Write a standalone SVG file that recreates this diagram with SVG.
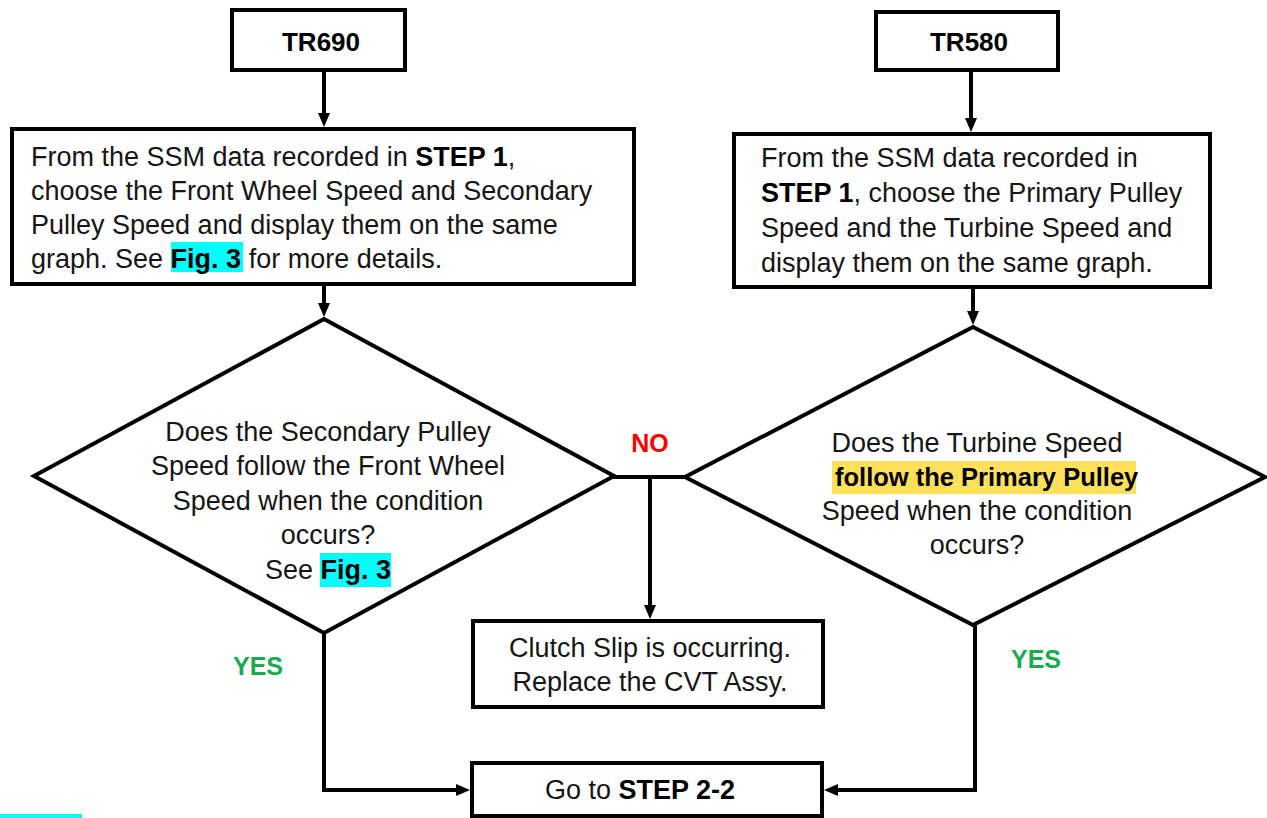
<svg xmlns="http://www.w3.org/2000/svg" width="1267" height="818" viewBox="0 0 1267 818">
<style>
text{font-family:"Liberation Sans",Arial,sans-serif;font-size:27px;fill:#151515}
.b{font-weight:bold;fill:#000}
.title{font-weight:bold;font-size:26px;text-anchor:middle;fill:#000}
.mid{text-anchor:middle}
.box{fill:#fff;stroke:#000;stroke-width:4}
.conn{fill:none;stroke:#000;stroke-width:4;stroke-linejoin:miter}
.no{font-weight:bold;font-size:25px;fill:#ff0000;text-anchor:middle}
.yes{font-weight:bold;font-size:25px;fill:#1aab50;text-anchor:middle}
.cyan{fill:#00ffff}
.yel{fill:#ffe05a}
</style>
<defs>
<marker id="arr" markerUnits="userSpaceOnUse" viewBox="0 0 14 12" refX="0" refY="6" markerWidth="14" markerHeight="12" orient="auto">
<path d="M0,0 L14,6 L0,12 z" fill="#000"/>
</marker>
</defs>
<rect width="1267" height="818" fill="#fff"/>

<g id="connectors">
<line class="conn" x1="324" y1="70" x2="324" y2="113" marker-end="url(#arr)"/>
<line class="conn" x1="324" y1="284" x2="324" y2="303" marker-end="url(#arr)"/>
<line class="conn" x1="971" y1="70" x2="971" y2="118" marker-end="url(#arr)"/>
<line class="conn" x1="973" y1="287" x2="973" y2="311" marker-end="url(#arr)"/>
<line class="conn" x1="613" y1="477" x2="687" y2="477"/>
<line class="conn" x1="650" y1="477" x2="650" y2="605" marker-end="url(#arr)"/>
<polyline class="conn" points="324,633 324,790 456,790" marker-end="url(#arr)"/>
<polyline class="conn" points="975,625 975,790 838,790" marker-end="url(#arr)"/>
</g>

<g id="tr690">
<rect class="box" x="232" y="10" width="173" height="60"/>
<text class="title" x="321" y="51">TR690</text>
</g>

<g id="tr580">
<rect class="box" x="876" y="12" width="182" height="58"/>
<text class="title" x="969" y="51">TR580</text>
</g>

<g id="step-tr690">
<rect class="box" x="12" y="129" width="622" height="155"/>
<rect class="cyan" x="171" y="242" width="72" height="30"/>
<text x="31" y="166">From the SSM data recorded in <tspan class="b">STEP 1</tspan>,</text>
<text x="31" y="200">choose the Front Wheel Speed and Secondary</text>
<text x="31" y="234">Pulley Speed and display them on the same</text>
<text x="31" y="268">graph. See <tspan class="b">Fig. 3</tspan> for more details.</text>
</g>

<g id="step-tr580">
<rect class="box" x="734" y="134" width="476" height="153"/>
<text x="761" y="167">From the SSM data recorded in</text>
<text x="761" y="202"><tspan class="b">STEP 1</tspan>, choose the Primary Pulley</text>
<text x="761" y="237">Speed and the Turbine Speed and</text>
<text x="761" y="272">display them on the same graph.</text>
</g>

<g id="decision-tr690">
<polygon class="box" points="324,319 614,476 324,633 34,476"/>
<rect class="cyan" x="320" y="553" width="71" height="34"/>
<text class="mid" x="328" y="441">Does the Secondary Pulley</text>
<text class="mid" x="328" y="475">Speed follow the Front Wheel</text>
<text class="mid" x="328" y="510">Speed when the condition</text>
<text class="mid" x="328" y="544">occurs?</text>
<text x="265" y="579">See <tspan class="b">Fig. 3</tspan></text>
</g>

<g id="decision-tr580">
<polygon class="box" points="973,327 1265,477 973,625 685,477"/>
<rect class="yel" x="832" y="461" width="304" height="33"/>
<text class="mid" x="977" y="452">Does the Turbine Speed</text>
<text class="b" x="835" y="486" style="font-size:25.5px">follow the Primary Pulley</text>
<text class="mid" x="977" y="520">Speed when the condition</text>
<text class="mid" x="977" y="554">occurs?</text>
</g>

<g id="clutch-slip">
<rect class="box" x="473" y="621" width="350" height="86"/>
<text class="mid" x="650" y="657">Clutch Slip is occurring.</text>
<text class="mid" x="650" y="691">Replace the CVT Assy.</text>
</g>

<g id="goto-step">
<rect class="box" x="472" y="763" width="350" height="53"/>
<text class="mid" x="640" y="799">Go to <tspan class="b">STEP 2-2</tspan></text>
</g>

<g id="labels">
<text class="no" x="650" y="452">NO</text>
<text class="yes" x="258" y="675">YES</text>
<text class="yes" x="1036" y="668">YES</text>
</g>

<rect class="cyan" x="0" y="814" width="82" height="4"/>
</svg>
